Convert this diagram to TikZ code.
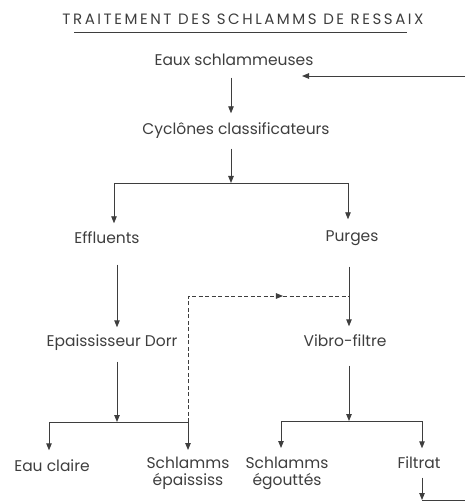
\documentclass[tikz,border=0pt]{standalone}
\usepackage{fontspec}
\setmainfont{Poppins}
\usetikzlibrary{arrows.meta,positioning,decorations.markings}
\definecolor{trait}{RGB}{62,62,62}
\tikzset{
  fleche/.style={draw=trait, line width=0.9pt, -{Triangle[length=7pt,width=5.5pt]}},
  lien/.style={draw=trait, line width=0.9pt},
  pointille/.style={draw=trait, line width=0.9pt, dash pattern=on 4pt off 2.5pt,
    postaction={decorate},
    decoration={markings, mark=at position 0.77 with {\arrow{Triangle[length=7pt,width=5.5pt]}}}},
  texte/.style={text=trait, font=\fontsize{15.5}{16.5}\selectfont, inner sep=0pt, align=center},
  etape/.style={texte, text height=10pt, text depth=3pt},
}

\begin{document}
\begin{tikzpicture}[x=1pt,y=-1pt]
	\useasboundingbox (0,0) rectangle (465,502);
	% titre
	\node[etape, font=\fontsize{15}{17}\selectfont\addfontfeature{LetterSpace=17}] (titre) at (243,21) {TRAITEMENT DES SCHLAMMS DE RESSAIX};
	\draw[lien] ([xshift=-169pt,yshift=-4.5pt]titre.south) -- ([xshift=164pt,yshift=-4.5pt]titre.south);
	% etapes
	\node[etape] (eaux) at (234,62) {Eaux schlammeuses};
	\node[etape] (cyclones) at (236,131) {Cyclônes classificateurs};
	\node[etape] (effluents) at (107,240) {Effluents};
	\node[etape] (purges) at (352,238) {Purges};
	\node[etape] (epaiss) at (112,343) {Epaississeur Dorr};
	\node[etape] (vibro) at (345,343) {Vibro-filtre};
	\node[etape] (eauclaire) at (52,468) {Eau claire};
	\node[texte, anchor=north] (schlep) at (188,457) {Schlamms\\épaississ};
	\node[texte, anchor=north] (schleg) at (287,457) {Schlamms\\égouttés};
	\node[etape] (filtrat) at (419,465) {Filtrat};
	% points de branchement
	\coordinate (retour) at (465,76);
	\coordinate (entree) at (302,76);
	\coordinate (b1) at (231,183);
	\coordinate (b1g) at (114,183);
	\coordinate (b1d) at (348,183);
	\coordinate (b2) at (117,422);
	\coordinate (b2g) at (49,422);
	\coordinate (b2d) at (188,422);
	\coordinate (coude) at (188,296);
	\coordinate (jonction) at (349,296);
	\coordinate (b3) at (349,421);
	\coordinate (b3g) at (281,421);
	\coordinate (b3d) at (422,421);
	\coordinate (sortie) at (422,500);
	\coordinate (bord) at (465,500);
	% liaisons
	\draw[fleche] (retour) -- (entree);
	\draw[fleche] ([yshift=-9pt]eaux.south -| b1) -- ([yshift=11pt]cyclones.north -| b1);
	\draw[fleche] ([yshift=-11pt]cyclones.south -| b1) -- (b1);
	\draw[lien] (b1g) -- (b1d);
	\draw[fleche] (b1g) -- ([yshift=10pt]b1g |- effluents.north);
	\draw[fleche] (b1d) -- ([yshift=12pt]b1d |- purges.north);
	\draw[fleche] ([yshift=-18pt]effluents.south -| b2) -- ([yshift=9pt]epaiss.north -| b2);
	\draw[fleche] ([yshift=-22pt]purges.south -| jonction) -- ([yshift=10pt]vibro.north -| jonction);
	\draw[pointille] (b2d) -- (coude) -- (jonction);
	\draw[fleche] ([yshift=-12pt]epaiss.south -| b2) -- (b2);
	\draw[lien] (b2g) -- (b2d);
	\draw[fleche] (b2g) -- ([yshift=11pt]b2g |- eauclaire.north);
	\draw[fleche] (b2d) -- ([yshift=7pt]b2d |- schlep.north);
	\draw[fleche] ([yshift=-16pt]vibro.south -| b3) -- (b3);
	\draw[lien] (b3g) -- (b3d);
	\draw[fleche] (b3g) -- ([yshift=9pt]b3g |- schleg.north);
	\draw[fleche] (b3d) -- ([yshift=10pt]b3d |- filtrat.north);
	\draw[fleche] ([yshift=-6pt]filtrat.south -| sortie) -- (sortie);
	\draw[lien] (sortie) -- (bord);
\end{tikzpicture}
\end{document}
